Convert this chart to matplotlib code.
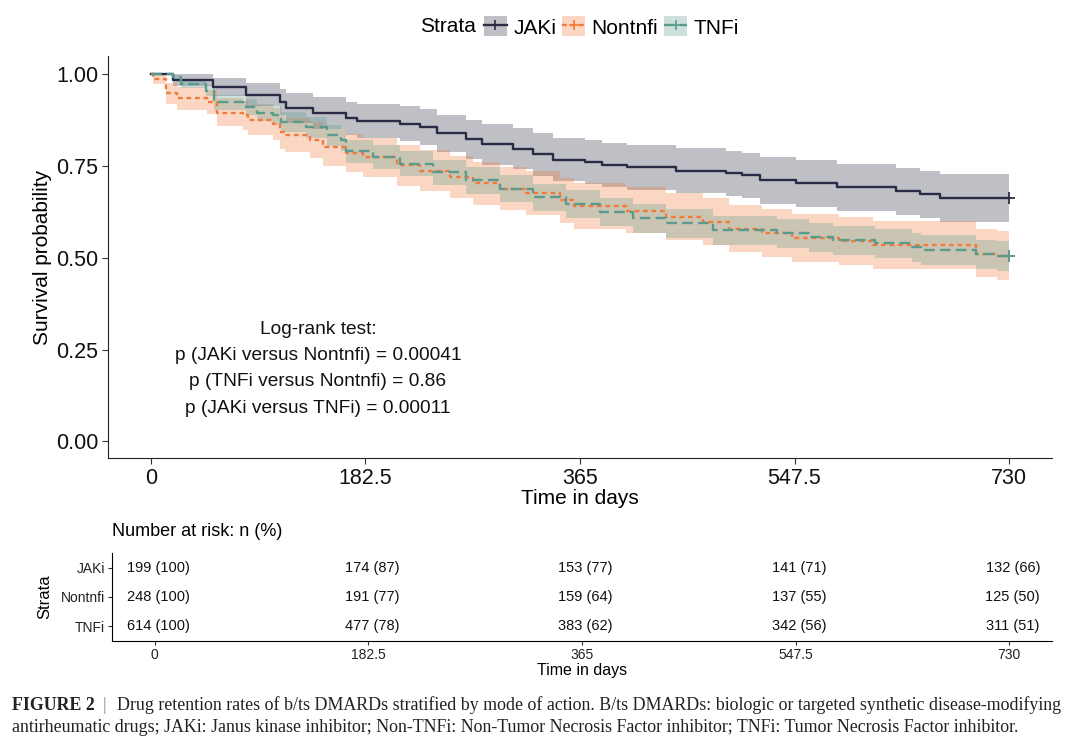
import matplotlib
matplotlib.use("Agg")
import matplotlib.pyplot as plt
from matplotlib.patches import Patch
from matplotlib.lines import Line2D

# ---------------- data ----------------
groups = ["JAKi", "Nontnfi", "TNFi"]
END_T = 730

jaki_t  = [0, 19, 53, 81, 110, 115, 138, 166, 175, 212, 229, 243, 268, 282, 308, 325, 342,
           369, 384, 405, 447, 489, 503, 518, 549, 584, 634, 654, 671]
jaki_s  = [1.000, 0.984, 0.965, 0.945, 0.924, 0.907, 0.894, 0.880, 0.872, 0.866, 0.856, 0.839,
           0.823, 0.809, 0.798, 0.782, 0.768, 0.760, 0.752, 0.747, 0.738, 0.730, 0.725, 0.711,
           0.703, 0.692, 0.681, 0.673, 0.663]
jaki_lo = [1.000, 0.967, 0.940, 0.914, 0.888, 0.867, 0.852, 0.835, 0.826, 0.819, 0.807, 0.788,
           0.770, 0.754, 0.742, 0.724, 0.709, 0.700, 0.692, 0.686, 0.677, 0.668, 0.663, 0.648,
           0.639, 0.628, 0.616, 0.608, 0.599]
jaki_hi = [1.000, 1.000, 0.990, 0.977, 0.961, 0.948, 0.937, 0.925, 0.918, 0.913, 0.905, 0.890,
           0.876, 0.864, 0.854, 0.840, 0.827, 0.820, 0.812, 0.808, 0.799, 0.792, 0.787, 0.774,
           0.767, 0.756, 0.746, 0.738, 0.729]

non_t  = [0, 2, 13, 22, 48, 56, 78, 83, 104, 110, 114, 135, 146, 166, 180, 209, 229, 254, 274,
          297, 319, 348, 360, 404, 438, 470, 492, 520, 545, 585, 614, 702, 720]
non_s  = [1.000, 0.988, 0.948, 0.935, 0.924, 0.896, 0.888, 0.875, 0.864, 0.842, 0.834, 0.820,
          0.801, 0.785, 0.774, 0.752, 0.738, 0.720, 0.703, 0.689, 0.676, 0.657, 0.641, 0.629,
          0.612, 0.597, 0.580, 0.567, 0.553, 0.545, 0.534, 0.512, 0.504]
non_lo = [1.000, 0.974, 0.920, 0.904, 0.891, 0.858, 0.849, 0.834, 0.821, 0.797, 0.788, 0.772,
          0.751, 0.733, 0.721, 0.697, 0.682, 0.663, 0.645, 0.630, 0.616, 0.596, 0.580, 0.567,
          0.549, 0.534, 0.516, 0.503, 0.488, 0.480, 0.469, 0.447, 0.441]
non_hi = [1.000, 1.000, 0.976, 0.966, 0.957, 0.935, 0.928, 0.917, 0.908, 0.888, 0.881, 0.869,
          0.852, 0.838, 0.828, 0.808, 0.795, 0.778, 0.762, 0.749, 0.737, 0.719, 0.704, 0.692,
          0.676, 0.662, 0.645, 0.633, 0.619, 0.611, 0.601, 0.579, 0.572]

tnf_t  = [0, 19, 26, 47, 54, 81, 90, 104, 111, 132, 150, 162, 166, 189, 212, 240, 268, 297,
          325, 353, 382, 410, 438, 478, 533, 560, 580, 616, 647, 655, 702, 720]
tnf_s  = [1.000, 0.992, 0.975, 0.956, 0.924, 0.911, 0.896, 0.888, 0.870, 0.856, 0.834, 0.820,
          0.790, 0.774, 0.757, 0.733, 0.711, 0.689, 0.665, 0.648, 0.624, 0.608, 0.594, 0.575,
          0.567, 0.556, 0.548, 0.540, 0.529, 0.522, 0.510, 0.505]
tnf_lo = [1.000, 0.985, 0.963, 0.940, 0.903, 0.888, 0.872, 0.863, 0.843, 0.828, 0.805, 0.790,
          0.758, 0.741, 0.723, 0.698, 0.675, 0.652, 0.628, 0.610, 0.586, 0.569, 0.555, 0.536,
          0.527, 0.516, 0.508, 0.500, 0.489, 0.482, 0.470, 0.465]
tnf_hi = [1.000, 0.999, 0.987, 0.972, 0.945, 0.934, 0.920, 0.913, 0.897, 0.884, 0.863, 0.850,
          0.822, 0.807, 0.791, 0.768, 0.747, 0.726, 0.702, 0.686, 0.662, 0.647, 0.633, 0.614,
          0.607, 0.596, 0.588, 0.580, 0.569, 0.562, 0.550, 0.545]

risk_times = [0, 182.5, 365, 547.5, 730]
risk_jaki = ["199 (100)", "174 (87)", "153 (77)", "141 (71)", "132 (66)"]
risk_non  = ["248 (100)", "191 (77)", "159 (64)", "137 (55)", "125 (50)"]
risk_tnf  = ["614 (100)", "477 (78)", "383 (62)", "342 (56)", "311 (51)"]

pval_lines = ["Log-rank test:",
              "p (JAKi versus Nontnfi) = 0.00041",
              "p (TNFi versus Nontnfi) = 0.86",
              "p (JAKi versus TNFi) = 0.00011"]

# ---------------- style ----------------
colors = {"JAKi": "#2B2B45", "Nontnfi": "#F27A3A", "TNFi": "#5A9B8E"}
styles = {"JAKi": "-", "Nontnfi": (0, (2, 1.6)), "TNFi": (0, (4.5, 2.2))}
plt.rcParams['font.family'] = ['Liberation Sans', 'DejaVu Sans']

fig = plt.figure(figsize=(10.8, 7.4), dpi=100)
W, H = 1080, 740
def ax_rect(l, t, r, b):
    return [l / W, 1 - b / H, (r - l) / W, (b - t) / H]

ax = fig.add_axes(ax_rect(108, 56, 1052, 458))
series = [("JAKi", jaki_t, jaki_s, jaki_lo, jaki_hi),
          ("Nontnfi", non_t, non_s, non_lo, non_hi),
          ("TNFi", tnf_t, tnf_s, tnf_lo, tnf_hi)]
for name, t, s, lo, hi in series:
    tt = list(t) + [END_T]
    ax.fill_between(tt, list(lo) + [lo[-1]], list(hi) + [hi[-1]], step='post',
                    color=colors[name], alpha=0.3, linewidth=0)
for name, t, s, lo, hi in series:
    tt = list(t) + [END_T]
    ax.step(tt, list(s) + [s[-1]], where='post', color=colors[name],
            linestyle=styles[name], linewidth=1.7)
    ax.plot([END_T], [s[-1]], marker='+', color=colors[name], markersize=8, mew=1.3)

ax.set_xlim(-36.5, 766.5)
ax.set_ylim(-0.045, 1.05)
ax.set_xticks(risk_times)
ax.set_xticklabels(["0", "182.5", "365", "547.5", "730"])
ax.set_yticks([0, 0.25, 0.5, 0.75, 1.0])
ax.set_yticklabels(["0.00", "0.25", "0.50", "0.75", "1.00"])
ax.tick_params(labelsize=15.5, length=4, color='#333333', labelcolor='#111111', pad=3)
for sp in ["top", "right"]:
    ax.spines[sp].set_visible(False)
for sp in ["left", "bottom"]:
    ax.spines[sp].set_color('#222222')
ax.set_xlabel("Time in days", fontsize=15, labelpad=0)
ax.set_ylabel("Survival probability", fontsize=15, labelpad=3)

ax.text(142, 0.198, "\n".join(pval_lines), ha='center', va='center',
        fontsize=13.8, linespacing=1.72, color='#111111')

# legend
fig.text(448 / W, 1 - 27 / H, "Strata", ha='center', va='center', fontsize=15)
handles = []
for name in groups:
    handles.append((Patch(facecolor=colors[name], alpha=0.3, edgecolor='none'),
                    Line2D([], [], color=colors[name], linestyle=styles[name], linewidth=1.7,
                           marker='+', markersize=7, mew=1.2)))
fig.legend(handles, groups, loc='center left', bbox_to_anchor=(484 / W, 1 - 27 / H),
           ncol=3, frameon=False, fontsize=15, handlelength=1.1, handleheight=1.1,
           handletextpad=0.3, columnspacing=0.3, borderaxespad=0, borderpad=0)

# risk table
ax2 = fig.add_axes(ax_rect(112, 553, 1052, 641))
ax2.set_xlim(-36.5, 766.5)
ax2.set_ylim(0.5, 3.5)
for row, vals in zip([3, 2, 1], [risk_jaki, risk_non, risk_tnf]):
    for tv, v in zip(risk_times, vals):
        ax2.text(tv + 3, row, v, ha='center', va='center', fontsize=10.5, color='#111111')
ax2.set_yticks([3, 2, 1])
ax2.set_yticklabels(groups)
ax2.set_xticks(risk_times)
ax2.set_xticklabels(["0", "182.5", "365", "547.5", "730"])
ax2.tick_params(labelsize=10, length=3, color='#333333', labelcolor='#222222', pad=2)
for sp in ["top", "right"]:
    ax2.spines[sp].set_visible(False)
ax2.set_xlabel("Time in days", fontsize=11.5, labelpad=1)
ax2.set_ylabel("Strata", fontsize=12, labelpad=6)
fig.text(112 / W, 1 - 531 / H, "Number at risk: n (%)", ha='left', va='center', fontsize=13)

# caption
cap_font = ['Liberation Serif', 'DejaVu Serif']
cap_size = 12.9
t1 = fig.text(12 / W, 1 - 705 / H, "FIGURE 2", ha='left', va='center', fontsize=cap_size,
              fontweight='bold', family=cap_font, color='#222222')
fig.canvas.draw()
bb = t1.get_window_extent()
fig.text((bb.x1 + 8) / W, 1 - 705 / H, "|", ha='left', va='center', fontsize=cap_size,
         family=cap_font, color='#888888')
fig.text((bb.x1 + 22) / W, 1 - 705 / H,
         "Drug retention rates of b/ts DMARDs stratified by mode of action. B/ts DMARDs: biologic or targeted synthetic disease-modifying",
         ha='left', va='center', fontsize=cap_size, family=cap_font, color='#222222')
fig.text(12 / W, 1 - 728 / H,
         "antirheumatic drugs; JAKi: Janus kinase inhibitor; Non-TNFi: Non-Tumor Necrosis Factor inhibitor; TNFi: Tumor Necrosis Factor inhibitor.",
         ha='left', va='center', fontsize=cap_size, family=cap_font, color='#222222')

fig.savefig("out.png", dpi=100)
